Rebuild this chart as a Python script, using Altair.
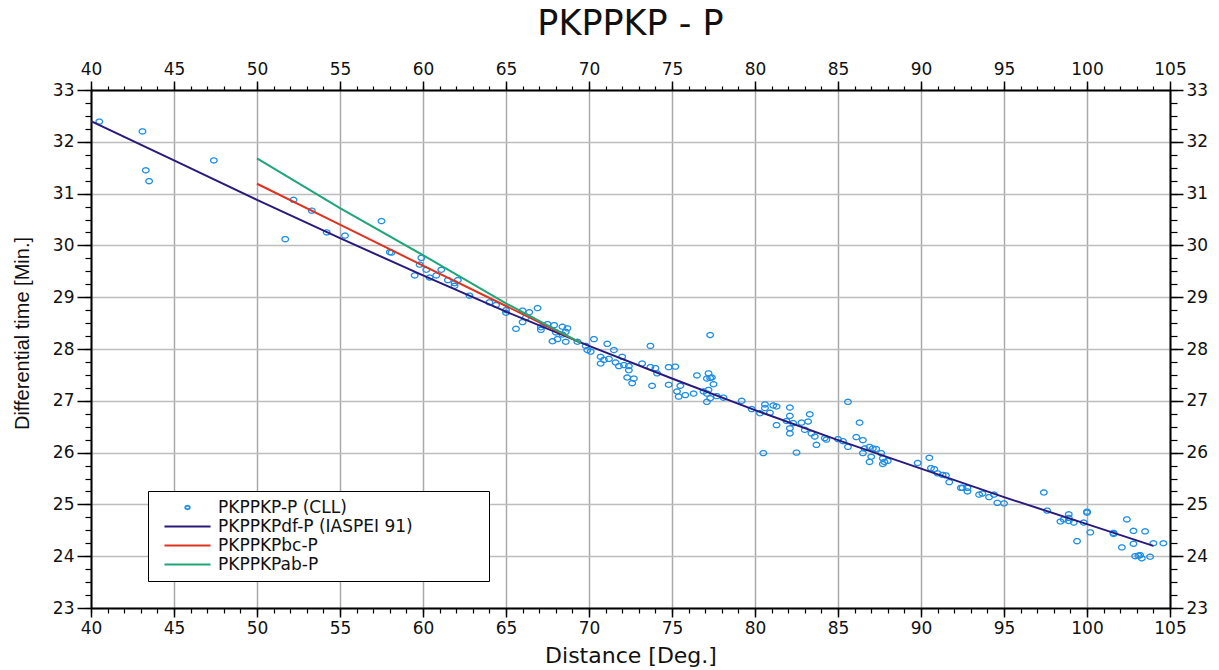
import math
import altair as alt
import pandas as pd

# ---------------- data ----------------
cll_dist = [40.5, 43.1, 43.3, 43.5, 47.4,
            51.7, 52.2, 53.3, 54.2, 55.3, 57.5, 58.0, 58.1,
            59.5, 59.8, 59.9, 60.2, 60.4, 60.8, 61.1, 61.5, 61.9, 61.9, 62.1, 62.8, 64.0, 64.4, 65.0, 65.0,
            65.6, 66.0, 66.0, 66.2, 66.4, 66.9, 67.1, 67.1, 67.5, 67.8, 67.9, 68.0, 68.1, 68.4, 68.4, 68.6, 68.6, 68.7,
            69.3, 69.8, 69.9, 70.1, 70.3, 70.7, 70.7, 70.9, 71.1, 71.2, 71.5, 71.6, 71.8, 72.0, 72.1, 72.3, 72.4, 72.4, 72.6, 72.7,
            73.2, 73.7, 73.7, 73.8, 74.0, 74.1, 74.8, 74.8, 75.2, 75.3, 75.4, 75.5, 75.8, 76.3, 76.5, 76.9,
            77.1, 77.1, 77.1, 77.2, 77.2, 77.3, 77.3, 77.3, 77.4, 77.5, 77.7,
            78.1, 79.2, 79.8, 80.3, 80.5, 80.6, 80.6, 80.9, 81.1, 81.3, 81.3, 81.9, 82.1, 82.1, 82.1, 82.1, 82.3, 82.5,
            82.8, 83.0, 83.2, 83.3, 83.4, 83.6, 83.7, 84.2, 84.3,
            85.0, 85.3, 85.6, 85.6, 86.1, 86.3, 86.5, 86.5, 86.6, 86.9, 86.9, 87.0, 87.1, 87.3, 87.6, 87.7, 87.7, 87.8, 88.0,
            89.8, 90.5, 90.6, 90.8, 91.0, 91.3, 91.5, 91.7, 92.4, 92.5, 92.8, 92.8, 93.5, 93.7, 94.1, 94.4, 94.6, 95.0,
            97.4, 97.6, 98.4, 98.6, 98.9, 98.9, 98.9, 99.2, 99.4, 99.8, 100.0, 100.0, 100.2, 101.6, 101.6, 102.1, 102.4,
            102.8, 102.8, 102.9, 103.1, 103.2, 103.3, 103.5, 103.8, 104.0, 104.6]
cll_time = [32.39, 32.20, 31.45, 31.24, 31.64,
            30.12, 30.88, 30.67, 30.25, 30.19, 30.47, 29.87, 29.86,
            29.42, 29.63, 29.76, 29.53, 29.38, 29.42, 29.53, 29.33, 29.22, 29.27, 29.33, 29.03, 28.90, 28.85, 28.75, 28.70,
            28.39, 28.74, 28.52, 28.61, 28.71, 28.79, 28.42, 28.37, 28.48, 28.15, 28.46, 28.32, 28.19, 28.43, 28.28, 28.33, 28.14, 28.40,
            28.14, 28.06, 27.98, 27.95, 28.19, 27.85, 27.72, 27.79, 28.10, 27.81, 27.98, 27.74, 27.67, 27.85, 27.69, 27.45, 27.67, 27.59, 27.34, 27.43,
            27.72, 28.06, 27.65, 27.29, 27.63, 27.53, 27.65, 27.31, 27.66, 27.18, 27.08, 27.29, 27.11, 27.14, 27.49, 27.18,
            27.43, 26.98, 27.14, 27.53, 27.21, 28.27, 27.44, 27.05, 27.45, 27.32, 27.09,
            27.06, 27.00, 26.84, 26.76, 25.99, 26.93, 26.86, 26.77, 26.91, 26.89, 26.53, 26.61, 26.87, 26.71, 26.47, 26.37, 26.57, 26.00,
            26.58, 26.44, 26.60, 26.74, 26.37, 26.31, 26.15, 26.28, 26.25,
            26.26, 26.22, 26.98, 26.11, 26.30, 26.58, 26.24, 25.99, 26.08, 26.11, 25.82, 25.92, 26.08, 26.07, 25.99, 25.89, 25.78, 25.82, 25.84,
            25.80, 25.90, 25.70, 25.68, 25.60, 25.57, 25.56, 25.43, 25.32, 25.32, 25.32, 25.25, 25.19, 25.21, 25.14, 25.19, 25.03, 25.02,
            25.23, 24.88, 24.67, 24.71, 24.81, 24.74, 24.68, 24.65, 24.29, 24.65, 24.84, 24.86, 24.46, 24.43, 24.45, 24.17, 24.71,
            24.49, 24.24, 24.00, 24.01, 24.02, 23.96, 24.48, 23.99, 24.25, 24.25]

df_dist = [40, 45, 50, 55, 60, 65, 70, 75, 80, 85, 90, 95, 100, 104]
df_time = [32.40, 31.64, 30.88, 30.14, 29.42, 28.72, 28.06, 27.43, 26.82, 26.24, 25.69, 25.14, 24.62, 24.20]

bc_dist = [50, 55, 60, 65, 69.5]
bc_time = [31.19, 30.40, 29.61, 28.83, 28.12]

ab_dist = [50, 55, 60, 65, 69.5]
ab_time = [31.68, 30.72, 29.81, 28.88, 28.12]

series_names = ["PKPPKP-P (CLL)", "PKPPKPdf-P (IASPEI 91)", "PKPPKPbc-P", "PKPPKPab-P"]
series_colors = ["#1f8fe6", "#2a1a7c", "#e0321f", "#1fa676"]

x_major = list(range(40, 106, 5))
x_minor = list(range(40, 106, 1))
y_major = list(range(23, 34, 1))
y_minor = [23 + 0.25 * k for k in range(41)]

# ---------------- tables ----------------
cll = pd.DataFrame({"dist": cll_dist, "time": cll_time, "series": series_names[0]})
df_line = pd.DataFrame({"dist": df_dist, "time": df_time})
bc_line = pd.DataFrame({"dist": bc_dist, "time": bc_time})
ab_line = pd.DataFrame({"dist": ab_dist, "time": ab_time})

# symbol paths (unit coordinates scaled by sqrt(size)/2)
ell_pts = []
for k in range(24):
    a = 2 * math.pi * k / 24
    ell_pts.append(f"{0.49 * math.cos(a):.4f},{0.38 * math.sin(a):.4f}")
ellipse = "M" + " L".join(ell_pts) + " Z"
long_stroke = "M-5,0 L5,0"

FONT = "DejaVu Sans"
xs = alt.Scale(domain=[40, 105], nice=False, zero=False)
ys = alt.Scale(domain=[23, 33], nice=False, zero=False)


def major_axis(orient, values, tick, grid=False, gridColor="#aaaaaa", **extra):
    kw = dict(orient=orient, values=values, tickSize=tick, tickColor="black", tickWidth=1.5,
              domain=True, domainColor="black", domainWidth=2, labels=True,
              labelFont=FONT, labelFontSize=17, labelColor="#111111", labelPadding=3,
              grid=grid, labelFlush=False, labelOverlap=False)
    if grid:
        kw.update(gridColor=gridColor, gridWidth=1.5, gridOpacity=1)
    if "title" not in extra:
        kw["title"] = None
    kw.update(extra)
    return alt.Axis(**kw)


def minor_axis(orient, values, tick):
    return alt.Axis(orient=orient, values=values, tickSize=tick, tickColor="black", tickWidth=1.2,
                    domain=False, labels=False, grid=False, title=None)


x_bottom = major_axis("bottom", x_major, 9, grid=True, title="Distance [Deg.]",
                      titleFont=FONT, titleFontSize=22, titleFontWeight="normal",
                      titleColor="#111111", titlePadding=9)
y_left = major_axis("left", y_major, 14, grid=True, gridColor="#bdbdbd",
                    title="Differential time [Min.]", titleFont="Liberation Sans",
                    titleFontSize=20, titleFontWeight="normal", titleColor="#111111",
                    titlePadding=20, titleY=243)

legend = alt.Legend(title=None, orient="none", legendX=57, legendY=401,
                    padding=8, strokeColor="black", fillColor="white",
                    symbolSize=85, symbolStrokeWidth=1.8, symbolOffset=23,
                    labelFont=FONT, labelFontSize=17, labelColor="#111111",
                    labelOffset=22, rowPadding=1, labelLimit=600,
                    labelExpr="datum.label + '\u2003\u2003\u2003\u2003\u200b'")

points = alt.Chart(cll).mark_point(filled=False, size=182, strokeWidth=1.3, opacity=1).encode(
    x=alt.X("dist:Q", scale=xs, axis=x_bottom),
    y=alt.Y("time:Q", scale=ys, axis=y_left),
    color=alt.Color("series:N", scale=alt.Scale(domain=series_names, range=series_colors), legend=legend),
    shape=alt.Shape("series:N", scale=alt.Scale(domain=series_names,
                                                range=[ellipse, long_stroke, long_stroke, long_stroke]),
                    legend=legend),
)

line_df = alt.Chart(df_line).mark_line(color=series_colors[1], strokeWidth=2, clip=True).encode(
    x=alt.X("dist:Q", scale=xs, axis=major_axis("top", x_major, 9)),
    y=alt.Y("time:Q", scale=ys, axis=major_axis("right", y_major, 13)),
)

line_bc = alt.Chart(bc_line).mark_line(color=series_colors[2], strokeWidth=2, clip=True).encode(
    x=alt.X("dist:Q", scale=xs, axis=minor_axis("bottom", x_minor, 5)),
    y=alt.Y("time:Q", scale=ys, axis=minor_axis("left", y_minor, 6)),
)

line_ab = alt.Chart(ab_line).mark_line(color=series_colors[3], strokeWidth=2, clip=True).encode(
    x=alt.X("dist:Q", scale=xs, axis=minor_axis("top", x_minor, 4)),
    y=alt.Y("time:Q", scale=ys, axis=minor_axis("right", y_minor, 7)),
)

chart = alt.layer(points, line_df, line_bc, line_ab).resolve_scale(
    x="independent", y="independent"
).properties(
    width=1079, height=518,
    title=alt.TitleParams("PKPPKP - P", font=FONT, fontSize=35, fontWeight="normal",
                          color="#111111", anchor="middle", offset=18),
    autosize=alt.AutoSizeParams(type="none"),
    padding={"left": 91, "top": 90, "right": 49, "bottom": 62},
).configure_view(stroke=None).configure(background="white")

chart.save("out.html", embed_options={"renderer": "svg", "actions": False})
